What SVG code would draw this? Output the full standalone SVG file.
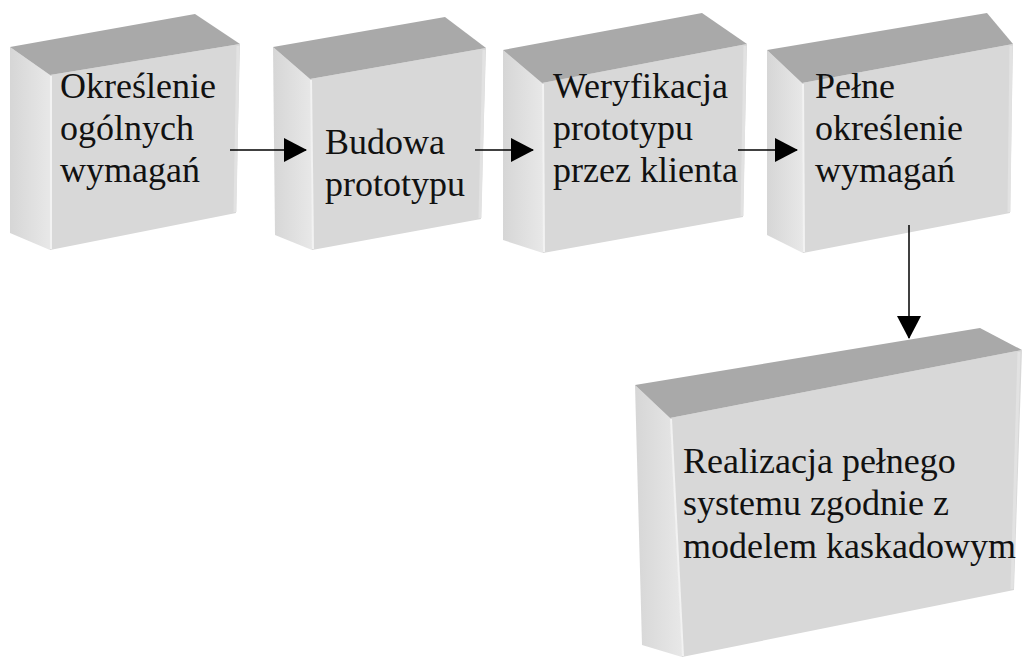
<svg xmlns="http://www.w3.org/2000/svg" width="1024" height="657" viewBox="0 0 1024 657">
<defs>
<style>
.top{fill:#a9a9a9}
.front{fill:#d8d8d8}
.side{fill:url(#sideg)}
.hl{stroke:#f2f2f2;stroke-width:2;fill:none}
.rs{stroke:#e2e2e2;stroke-width:3;fill:none}
.t{font-family:"Liberation Serif","Times New Roman",serif;font-size:36px;fill:#111}
.c{stroke:#000;stroke-width:1.5;fill:none}
</style>
<linearGradient id="sideg" x1="0" y1="0" x2="1" y2="0">
<stop offset="0" stop-color="#d6d6d6"/>
<stop offset="1" stop-color="#e8e8e8"/>
</linearGradient>
<marker id="ah" markerWidth="24" markerHeight="24" refX="22" refY="12" orient="auto" markerUnits="userSpaceOnUse">
<path d="M0,0 L23,12 L0,24 Z" fill="#000"/>
</marker>
</defs>
<rect width="1024" height="657" fill="#fff"/>

<g id="n1">
<polygon class="side" points="10,47 50,75 50,250 10,233"/>
<polygon class="front" points="50,75 240,44 236,213 50,250"/>
<polygon class="top" points="10,47 195,14 240,44 50,75"/>
<line class="hl" x1="51" y1="76" x2="51" y2="249"/>
<line class="rs" x1="238" y1="46" x2="235" y2="212"/>
<text class="t" x="60" y="98">Określenie</text>
<text class="t" x="60" y="140">ogólnych</text>
<text class="t" x="60" y="182">wymagań</text>
</g>

<g id="n2">
<polygon class="side" points="273,47 310,79 312,250 275,235"/>
<polygon class="front" points="310,79 486,48 481,219 312,250"/>
<polygon class="top" points="273,47 445,17 486,48 310,79"/>
<line class="hl" x1="311" y1="80" x2="313" y2="249"/>
<line class="rs" x1="484" y1="50" x2="480" y2="218"/>
<text class="t" x="325" y="154">Budowa</text>
<text class="t" x="325" y="196">prototypu</text>
</g>

<g id="n3">
<polygon class="side" points="503,50 542,83 543,253 503,240"/>
<polygon class="front" points="542,83 747,44 743,217 543,253"/>
<polygon class="top" points="503,50 702,13 747,44 542,83"/>
<line class="hl" x1="543" y1="84" x2="544" y2="252"/>
<line class="rs" x1="745" y1="46" x2="742" y2="216"/>
<text class="t" x="553" y="98">Weryfikacja</text>
<text class="t" x="553" y="140">prototypu</text>
<text class="t" x="553" y="182">przez klienta</text>
</g>

<g id="n4">
<polygon class="side" points="767,50 802,83 803,253 767,235"/>
<polygon class="front" points="802,83 1013,44 1010,213 803,253"/>
<polygon class="top" points="767,50 987,13 1013,44 802,83"/>
<line class="hl" x1="803" y1="84" x2="804" y2="252"/>
<line class="rs" x1="1011" y1="46" x2="1009" y2="212"/>
<text class="t" x="815" y="98">Pełne</text>
<text class="t" x="815" y="140">określenie</text>
<text class="t" x="815" y="182">wymagań</text>
</g>

<g id="n5">
<polygon class="side" points="635,385 670,418 682,657 642,645"/>
<polygon class="front" points="670,418 1022,350 1014,590 682,657"/>
<polygon class="top" points="635,385 980,328 1022,350 670,418"/>
<line class="hl" x1="671" y1="419" x2="683" y2="656"/>
<line class="rs" x1="1019" y1="352" x2="1012" y2="589"/>
<text class="t" x="683" y="473">Realizacja pełnego</text>
<text class="t" x="683" y="515">systemu zgodnie z</text>
<text class="t" x="683" y="558">modelem kaskadowym</text>
</g>

<g id="connectors">
<line class="c" x1="230" y1="150" x2="306" y2="150" marker-end="url(#ah)"/>
<line class="c" x1="475" y1="150" x2="533" y2="150" marker-end="url(#ah)"/>
<line class="c" x1="738" y1="150" x2="797" y2="150" marker-end="url(#ah)"/>
<line class="c" x1="909" y1="225" x2="909" y2="338" marker-end="url(#ah)"/>
</g>
</svg>
